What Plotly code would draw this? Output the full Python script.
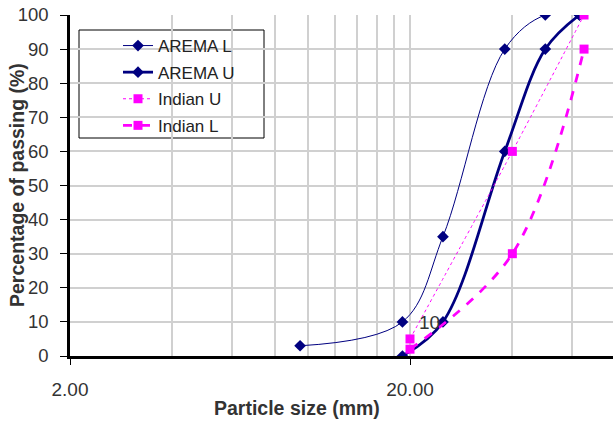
import math
import plotly.graph_objects as go

# ---- data ----
arema_l_x = [9.5, 19, 25, 38, 50, 63]
arema_l_y = [3, 10, 35, 90, 100, 100]
arema_u_x = [19, 25, 38, 50, 63]
arema_u_y = [0, 10, 60, 90, 100]
indian_u_x = [20, 40, 65]
indian_u_y = [5, 60, 100]
indian_l_x = [20, 40, 65]
indian_l_y = [2, 30, 90]

x_tickvals = [2, 20]
x_ticktext = ["2.00", "20.00"]
x_minor = [4, 6, 8, 10, 12, 14, 16, 18, 40, 60, 80]
y_ticks = list(range(0, 101, 10))

NAVY = "#000080"
MAG = "#FF00FF"
FONT = "Liberation Sans, Arial, sans-serif"

fig = go.Figure()
fig.add_trace(go.Scatter(x=arema_l_x, y=arema_l_y, name="AREMA L", mode="lines+markers",
                         line=dict(color=NAVY, width=1, shape="spline"),
                         marker=dict(symbol="diamond", size=9, color=NAVY),
                         legendgroup="a"))
fig.add_trace(go.Scatter(x=arema_u_x, y=arema_u_y, name="AREMA U", mode="lines+markers",
                         line=dict(color=NAVY, width=2.8, shape="spline"),
                         marker=dict(symbol="diamond", size=9, color=NAVY),
                         legendgroup="b"))
fig.add_trace(go.Scatter(x=indian_u_x, y=indian_u_y, name="Indian U", mode="lines+markers",
                         line=dict(color=MAG, width=1, dash="dot", shape="spline", smoothing=0.6),
                         marker=dict(symbol="square", size=9, color=MAG),
                         legendgroup="c"))
fig.add_trace(go.Scatter(x=indian_l_x, y=indian_l_y, name="Indian L", mode="lines+markers",
                         line=dict(color=MAG, width=2.8, dash="dash", shape="spline"),
                         marker=dict(symbol="square", size=9, color=MAG),
                         legendgroup="d"))

W, H = 613, 424
L, R, T, B = 70, 0, 15, 68
xmin = math.log10(2)
xmax = xmin + (W - L - R) / 340.0

px = lambda v: (v - L) / (W - L - R)
py = lambda v: ((H - B) - v) / (H - T - B)

fig.add_annotation(x=1.357, y=9.7, xref="x", yref="y", text="10", showarrow=False,
                   font=dict(family=FONT, size=19, color="#333333"))
fig.add_annotation(x=px(297), y=py(408), xref="paper", yref="paper", text="<b>Particle size (mm)</b>",
                   showarrow=False, xanchor="center", yanchor="middle",
                   font=dict(family=FONT, size=19.5, color="#333333"))
fig.add_annotation(x=px(17), y=py(185), xref="paper", yref="paper", text="<b>Percentage of passing (%)</b>",
                   showarrow=False, xanchor="center", yanchor="middle", textangle=-90,
                   font=dict(family=FONT, size=19.5, color="#333333"))

# legend border box
fig.add_shape(type="rect", xref="paper", yref="paper", x0=px(79), x1=px(264), y0=py(138), y1=py(30),
              line=dict(color="black", width=1), fillcolor="white", layer="below")

fig.update_layout(
    width=W, height=H,
    margin=dict(l=L, r=R, t=T, b=B, autoexpand=False),
    paper_bgcolor="white", plot_bgcolor="white",
    font=dict(family=FONT, size=16, color="#333333"),
    showlegend=True,
    legend=dict(x=px(118), y=py(28), xanchor="left", yanchor="top",
                bgcolor="rgba(0,0,0,0)", borderwidth=0,
                font=dict(family=FONT, size=17, color="#222222"),
                traceorder="grouped", tracegroupgap=1.5),
    xaxis=dict(type="log", range=[xmin, xmax], tickvals=x_tickvals, ticktext=x_ticktext,
               showgrid=True, gridcolor="#d0d0d0", gridwidth=1.5,
               minor=dict(tickvals=x_minor, showgrid=True, gridcolor="#d0d0d0", gridwidth=1.5, ticklen=0),
               showline=True, linecolor="black", linewidth=2.5,
               ticks="outside", ticklen=6, tickcolor="black", tickwidth=1,
               ticklabelstandoff=8, zeroline=False, automargin=False, layer="below traces",
               tickfont=dict(family=FONT, size=19, color="#333333")),
    yaxis=dict(range=[0, 100], tickvals=y_ticks,
               showgrid=True, gridcolor="#d0d0d0", gridwidth=1.5,
               showline=True, linecolor="black", linewidth=2.5,
               ticks="outside", ticklen=7, tickcolor="black", tickwidth=1,
               ticklabelstandoff=8, zeroline=False, automargin=False,
               tickfont=dict(family=FONT, size=18.5, color="#333333")),
)

fig.write_html("out.html", config={"displayModeBar": False},
               post_script="document.body.style.margin='0';document.body.style.overflow='hidden';")
